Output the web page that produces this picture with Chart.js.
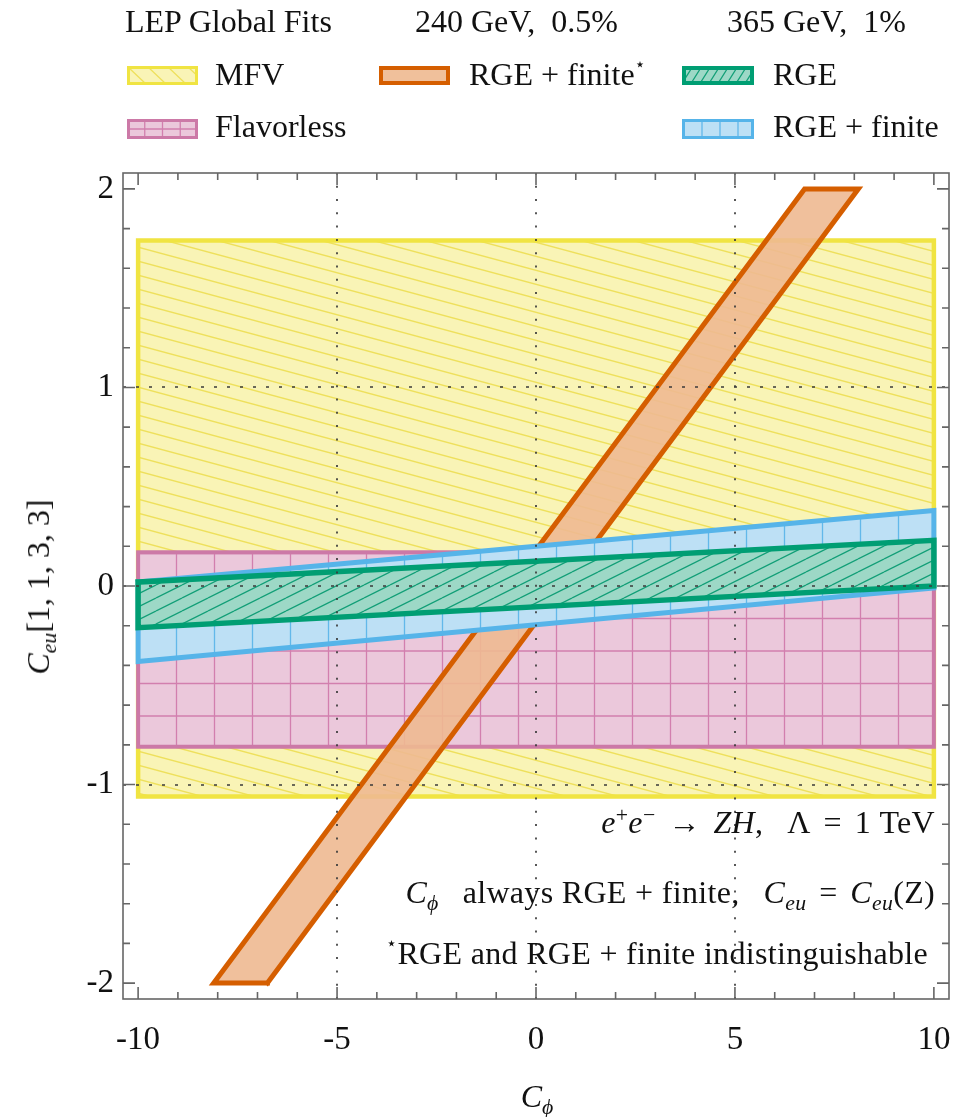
<!DOCTYPE html>
<html>
<head>
<meta charset="utf-8">
<script src="https://cdn.jsdelivr.net/npm/chart.js@4.4.0/dist/chart.umd.min.js"></script>
<style>
  body { margin: 0; background: #fff; }
  #wrap { position: relative; width: 964px; height: 1117px; font-family: 'Liberation Serif', 'DejaVu Serif', serif; color: #111; overflow: hidden; }
  #grafico { position: absolute; left: 0; top: 0; }
  .txt { position: absolute; font-size: 32px; line-height: 32px; white-space: nowrap; }
  .nota { position: absolute; right: 29px; font-size: 32px; line-height: 32px; letter-spacing: 0.01em; white-space: nowrap; }
  .sw { position: absolute; }
  sup, sub { font-size: 0.68em; line-height: 0; }
  sup { vertical-align: 0.5em; }
  sub { vertical-align: -0.3em; }
  .star { font-family: 'DejaVu Sans', sans-serif; font-size: 0.55em; line-height: 0; vertical-align: 0.85em; }
  .op { margin: 0 0.4em; }
  .gap { margin-left: 0.75em; }
</style>
</head>
<body>
<div id="wrap">
  <canvas id="grafico" width="964" height="1117"></canvas>

  <div class="txt" style="left:125px; top:5px">LEP Global Fits</div>
  <div class="txt" style="left:415px; top:5px">240 GeV,&nbsp; 0.5%</div>
  <div class="txt" style="left:727px; top:5px">365 GeV,&nbsp; 1%</div>

  <canvas class="sw" id="sw-mfv" width="71" height="19" style="left:127px; top:66px"></canvas>
  <div class="txt" style="left:215px; top:58px">MFV</div>
  <canvas class="sw" id="sw-star" width="71" height="19" style="left:379px; top:66px"></canvas>
  <div class="txt" style="left:469px; top:58px">RGE + finite<span class="star">⋆</span></div>
  <canvas class="sw" id="sw-rge" width="72" height="19" style="left:682px; top:66px"></canvas>
  <div class="txt" style="left:773px; top:58px">RGE</div>

  <canvas class="sw" id="sw-flav" width="71" height="20" style="left:127px; top:119px"></canvas>
  <div class="txt" style="left:215px; top:110px">Flavorless</div>
  <canvas class="sw" id="sw-fin" width="72" height="20" style="left:682px; top:119px"></canvas>
  <div class="txt" style="left:773px; top:110px">RGE + finite</div>

  <div class="nota" style="top:806px"><i>e</i><sup>+</sup><i>e</i><sup>−</sup><span class="op">→</span><i>ZH</i>,<span class="gap">Λ</span><span class="op">=</span>1 TeV</div>
  <div class="nota" style="top:876px"><i>C</i><sub><i>ϕ</i></sub><span class="gap">always</span> RGE + finite,<span class="gap"><i>C</i></span><sub><i>eu</i></sub><span class="op">=</span><i>C</i><sub><i>eu</i></sub>(Z)</div>
  <div class="nota" style="top:937px; right:36px"><span class="star">⋆</span>RGE and RGE + finite indistinguishable</div>

  <div class="txt" style="left:38px; top:587px; transform: translate(-50%, -50%) rotate(-90deg)"><i>C</i><sub><i>eu</i></sub>[1, 1, 3, 3]</div>
  <div class="txt" style="left:537px; top:1080px; transform: translateX(-50%)"><i>C</i><sub><i>ϕ</i></sub></div>
</div>

<script>
// contornos das regiões (C_phi, C_eu)
const mfvX = [-10, 10, 10, -10, -10];
const mfvY = [1.74, 1.74, -1.06, -1.06, 1.74];
const flavX = [-10, 10, 10, -10, -10];
const flavY = [0.17, 0.17, -0.81, -0.81, 0.17];
const estrelaX = [-6.75, 8.1, 6.75, -8.1, -6.75];
const estrelaY = [-2, 2, 2, -2, -2];
const finitoX = [-10, 10, 10, -10, -10];
const finitoY = [0.02, 0.38, -0.01, -0.38, 0.02];
const rgeX = [-10, 10, 10, -10, -10];
const rgeY = [0.02, 0.23, 0.0, -0.21, 0.02];

// marcas dos eixos
const xTicks = [-10, -5, 0, 5, 10];
const yTicks = [-2, -1, 0, 1, 2];
const xMenores = [];
for (let i = -10; i <= 10; i++) xMenores.push(i);
const yMenores = [];
for (let i = -10; i <= 10; i++) yMenores.push(i / 5);

const cores = {
  mfv: '#F0E442',
  flav: '#CC79A7',
  estrela: '#D55E00',
  finito: '#56B4E9',
  rge: '#009E73'
};

function pontos(xs, ys) {
  return xs.map((x, i) => ({ x: x, y: ys[i] }));
}

function criarPadrao(tipo) {
  const c = document.createElement('canvas');
  const g = c.getContext('2d');
  g.lineWidth = 1.3;
  if (tipo === 'mfv') {
    c.width = 52; c.height = 14;
    g.fillStyle = '#f9f4b6'; g.fillRect(0, 0, 52, 14);
    g.strokeStyle = '#eee05c'; g.lineWidth = 1.4;
    [-14, 0, 14].forEach(k => { g.beginPath(); g.moveTo(0, k); g.lineTo(52, k + 14); g.stroke(); });
  } else if (tipo === 'rge') {
    c.width = 26; c.height = 13;
    g.fillStyle = '#9dd8c6'; g.fillRect(0, 0, 26, 13);
    g.strokeStyle = '#139f77'; g.lineWidth = 1.3;
    [-13, 0, 13].forEach(k => { g.beginPath(); g.moveTo(0, k + 13); g.lineTo(26, k); g.stroke(); });
  } else if (tipo === 'flav') {
    c.width = 38; c.height = 65;
    g.fillStyle = '#ebc8db'; g.fillRect(0, 0, 38, 65);
    g.strokeStyle = '#d27fae'; g.lineWidth = 1.3;
    g.beginPath();
    g.moveTo(24.5, 0); g.lineTo(24.5, 65);
    g.moveTo(0, 1); g.lineTo(38, 1);
    g.moveTo(0, 33.5); g.lineTo(38, 33.5);
    g.stroke();
  } else if (tipo === 'finito') {
    c.width = 38; c.height = 10;
    g.fillStyle = '#bde0f5'; g.fillRect(0, 0, 38, 10);
    g.strokeStyle = '#62b8ea'; g.lineWidth = 1.3;
    g.beginPath(); g.moveTo(24.5, 0); g.lineTo(24.5, 10); g.stroke();
  }
  return c;
}

function desenharIcone(id, tipo, borda, largura) {
  const c = document.getElementById(id);
  const g = c.getContext('2d');
  const w = c.width, h = c.height;
  const fundos = { mfv: '#f9f4b6', rge: '#9dd8c6', flav: '#ebc8db', finito: '#bde0f5', estrela: '#f0c09b' };
  g.fillStyle = fundos[tipo];
  g.fillRect(0, 0, w, h);
  g.lineWidth = 1.3;
  g.beginPath();
  if (tipo === 'mfv') {
    g.strokeStyle = '#eee05c';
    for (let x0 = -20; x0 < w; x0 += 20) { g.moveTo(x0, 0); g.lineTo(x0 + 20, h); }
  } else if (tipo === 'rge') {
    g.strokeStyle = '#139f77';
    for (let x0 = -10; x0 < w + 10; x0 += 9) { g.moveTo(x0, h); g.lineTo(x0 + 12, 0); }
  } else if (tipo === 'flav') {
    g.strokeStyle = '#d27fae';
    [w / 4, w / 2, 3 * w / 4].forEach(x0 => { g.moveTo(x0, 0); g.lineTo(x0, h); });
    g.moveTo(0, h / 2); g.lineTo(w, h / 2);
  } else if (tipo === 'finito') {
    g.strokeStyle = '#62b8ea';
    [w / 4 + 2, w / 2 + 2, 3 * w / 4 + 2].forEach(x0 => { g.moveTo(x0, 0); g.lineTo(x0, h); });
  }
  g.stroke();
  g.strokeStyle = borda;
  g.lineWidth = largura;
  g.strokeRect(largura / 2, largura / 2, w - largura, h - largura);
}

desenharIcone('sw-mfv', 'mfv', cores.mfv, 3);
desenharIcone('sw-star', 'estrela', cores.estrela, 4);
desenharIcone('sw-rge', 'rge', cores.rge, 4);
desenharIcone('sw-flav', 'flav', cores.flav, 3);
desenharIcone('sw-fin', 'finito', cores.finito, 3);

const ctx = document.getElementById('grafico').getContext('2d');

function regiao(label, xs, ys, fundo, cor, largura, ordem) {
  return {
    label: label,
    data: pontos(xs, ys),
    backgroundColor: fundo,
    borderColor: cor,
    borderWidth: largura,
    borderJoinStyle: 'miter',
    borderCapStyle: 'square',
    fill: 'shape',
    tension: 0,
    pointRadius: 0,
    order: ordem
  };
}

// moldura, marcas internas e linhas pontilhadas por cima das regiões
const moldura = {
  id: 'moldura',
  afterDatasetsDraw(chart) {
    const { ctx, chartArea: a, scales: { x, y } } = chart;
    ctx.save();
    ctx.strokeStyle = '#3a3a3a';
    ctx.lineWidth = 1.7;
    ctx.setLineDash([2, 11.3]);
    xTicks.slice(1, -1).forEach(v => {
      const px = Math.round(x.getPixelForValue(v));
      ctx.beginPath(); ctx.moveTo(px, a.bottom); ctx.lineTo(px, a.top); ctx.stroke();
    });
    ctx.setLineDash([3, 10]);
    yTicks.slice(1, -1).forEach(v => {
      const py = Math.round(y.getPixelForValue(v));
      ctx.beginPath(); ctx.moveTo(a.left, py); ctx.lineTo(a.right, py); ctx.stroke();
    });
    ctx.setLineDash([]);
    ctx.strokeStyle = '#666';
    ctx.lineWidth = 1.6;
    ctx.strokeRect(a.left, a.top, a.right - a.left, a.bottom - a.top);
    ctx.beginPath();
    xMenores.forEach(v => {
      const px = x.getPixelForValue(v);
      const len = xTicks.includes(v) ? 12 : 7;
      ctx.moveTo(px, a.bottom); ctx.lineTo(px, a.bottom - len);
      ctx.moveTo(px, a.top); ctx.lineTo(px, a.top + len);
    });
    yMenores.forEach(v => {
      const py = y.getPixelForValue(v);
      const len = yTicks.includes(v) ? 12 : 7;
      ctx.moveTo(a.left, py); ctx.lineTo(a.left + len, py);
      ctx.moveTo(a.right, py); ctx.lineTo(a.right - len, py);
    });
    ctx.stroke();
    ctx.restore();
  }
};

const fonteTicks = { family: "'Liberation Serif', serif", size: 33 };

new Chart(ctx, {
  type: 'line',
  data: {
    datasets: [
      regiao('MFV', mfvX, mfvY, ctx.createPattern(criarPadrao('mfv'), 'repeat'), cores.mfv, 4.5, 5),
      regiao('Flavorless', flavX, flavY, ctx.createPattern(criarPadrao('flav'), 'repeat'), cores.flav, 4, 4),
      regiao('RGE + finite*', estrelaX, estrelaY, 'rgba(238,185,145,0.9)', cores.estrela, 5, 3),
      regiao('RGE + finite', finitoX, finitoY, ctx.createPattern(criarPadrao('finito'), 'repeat'), cores.finito, 5, 2),
      regiao('RGE', rgeX, rgeY, ctx.createPattern(criarPadrao('rge'), 'repeat'), cores.rge, 5.5, 1)
    ]
  },
  options: {
    responsive: false,
    animation: false,
    layout: { padding: { top: 173, right: 15, left: 0, bottom: 0 } },
    plugins: { legend: { display: false }, tooltip: { enabled: false } },
    scales: {
      x: {
        type: 'linear',
        min: -10.38,
        max: 10.38,
        afterBuildTicks: s => { s.ticks = xTicks.map(v => ({ value: v })); },
        afterFit: s => { s.height = 118; s.paddingLeft = 0; s.paddingRight = 0; },
        grid: { display: false, drawTicks: false },
        border: { display: false },
        ticks: { font: fonteTicks, color: '#111', padding: 22, maxRotation: 0, autoSkip: false,
                 callback: v => String(v) }
      },
      y: {
        type: 'linear',
        min: -2.08,
        max: 2.08,
        afterBuildTicks: s => { s.ticks = yTicks.map(v => ({ value: v })); },
        afterFit: s => { s.width = 123; },
        grid: { display: false, drawTicks: false },
        border: { display: false },
        ticks: { font: fonteTicks, color: '#111', padding: 9, autoSkip: false,
                 callback: v => String(v) }
      }
    }
  },
  plugins: [moldura]
});
</script>
</body>
</html>
